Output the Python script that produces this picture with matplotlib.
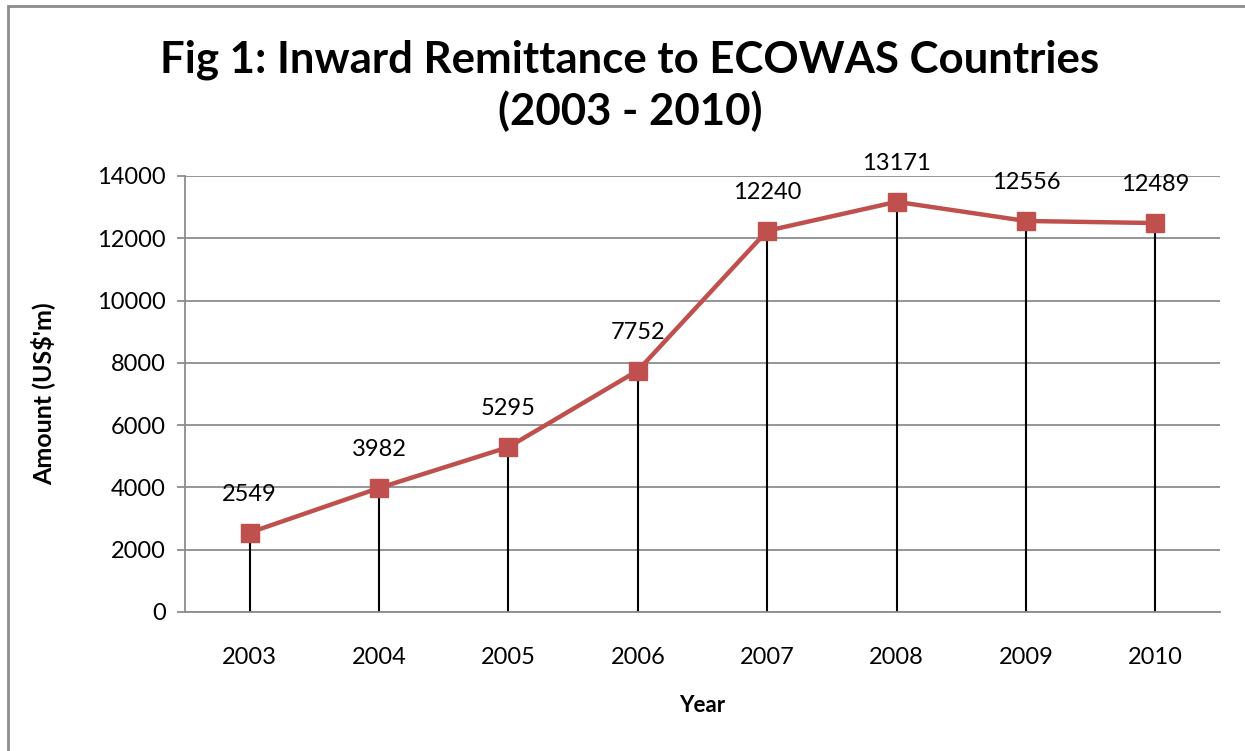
import matplotlib
matplotlib.use("Agg")
import matplotlib.pyplot as plt
from matplotlib.patches import Rectangle

years = ["2003", "2004", "2005", "2006", "2007", "2008", "2009", "2010"]
amounts = [2549, 3982, 5295, 7752, 12240, 13171, 12556, 12489]
yticks = [0, 2000, 4000, 6000, 8000, 10000, 12000, 14000]

plt.rcParams['font.family'] = ['Lato', 'DejaVu Sans']

W, H = 1245, 751
fig = plt.figure(figsize=(W / 100, H / 100), dpi=100)
fig.patch.set_facecolor('white')

# outer chart border
fig.patches.append(Rectangle((8 / W, -0.05), 1.2, 1 - 6 / H + 0.05, transform=fig.transFigure,
                             fill=False, edgecolor='#8c8c8c', linewidth=2, zorder=0))

left, right, top, bottom = 185, 1220, 176, 612
ax = fig.add_axes([left / W, 1 - bottom / H, (right - left) / W, (bottom - top) / H])

x = list(range(len(years)))
ax.set_xlim(-0.5, len(years) - 0.5)
ax.set_ylim(0, 14000)
ax.set_yticks(yticks)
ax.set_yticklabels([str(v) for v in yticks])
ax.set_xticks(x)
ax.set_xticklabels(years)

ax.grid(axis='y', color='#8c8c8c', linewidth=1.3)
ax.set_axisbelow(True)
for s in ['top', 'right']:
    ax.spines[s].set_visible(False)
for s in ['left', 'bottom']:
    ax.spines[s].set_color('#8c8c8c')
    ax.spines[s].set_linewidth(1.3)
ax.tick_params(axis='y', length=6, color='#8c8c8c', width=1.3, labelsize=17, pad=8)
ax.tick_params(axis='x', length=0, labelsize=17, pad=25)

ax.vlines(x, 0, amounts, colors='black', linewidth=1.5, zorder=2)
ax.plot(x, amounts, color='#C0504D', linewidth=3.2, marker='s', markersize=13,
        markerfacecolor='#C0504D', markeredgecolor='#C0504D', zorder=3)

for xi, v in zip(x, amounts):
    ax.annotate(str(v), (xi, v), xytext=(0, 20), textcoords='offset points',
                ha='center', va='bottom', fontsize=17)

ax.set_ylabel("Amount (US$'m)", fontsize=18, fontweight='bold', labelpad=30)
ax.set_xlabel("Year", fontsize=16, fontweight='bold', labelpad=20)

fig.text(630 / W, 1 - 60 / H, "Fig 1: Inward Remittance to ECOWAS Countries",
         ha='center', va='center', fontsize=31.5, fontweight='bold')
fig.text(630 / W, 1 - 111 / H, "(2003 - 2010)",
         ha='center', va='center', fontsize=31.5, fontweight='bold')

fig.savefig("out.png", dpi=100)
